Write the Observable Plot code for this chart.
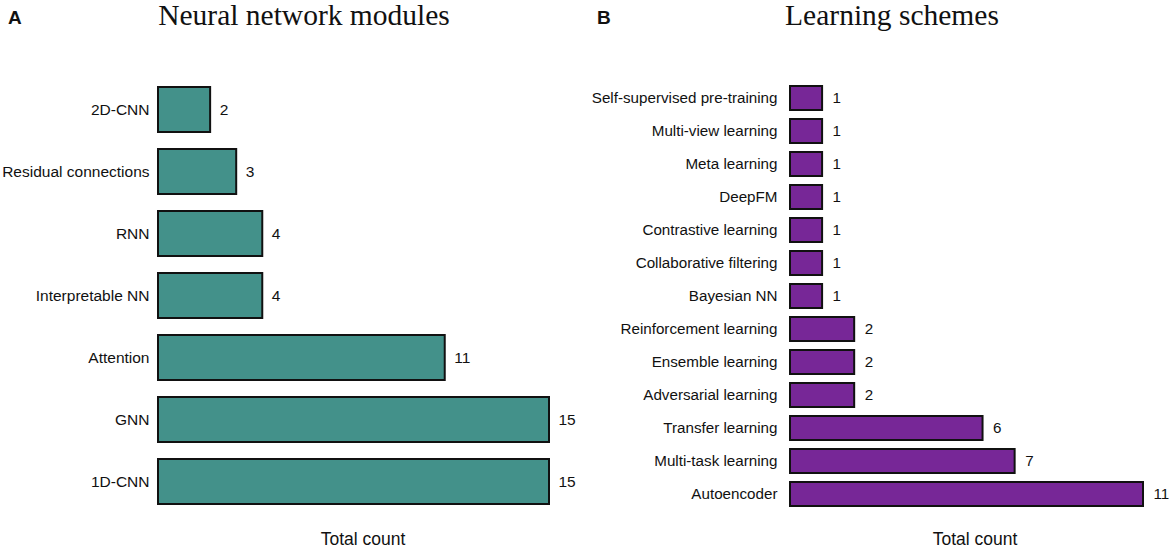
<!DOCTYPE html>
<html>
<head>
<meta charset="utf-8">
<script src="https://cdn.jsdelivr.net/npm/d3@7"></script>
<script src="https://cdn.jsdelivr.net/npm/@observablehq/plot@0.6"></script>
<style>
  html, body { margin: 0; padding: 0; background: #fff; }
  #root { position: relative; width: 1170px; height: 548px; overflow: hidden; font-family: "Liberation Sans", Arial, sans-serif; }
  .panel { position: absolute; top: 0; }
  .letter { position: absolute; font: bold 19px/1 "Liberation Sans", Arial, sans-serif; color: #111; }
  .title { position: absolute; font-family: "Liberation Serif", "Times New Roman", serif; font-size: 29.5px; line-height: 1; color: #111; transform: translateX(-50%); white-space: nowrap; }
  .xlab { position: absolute; font-size: 17.5px; line-height: 1; color: #111; transform: translateX(-50%); white-space: nowrap; }
</style>
</head>
<body>
<div id="root"></div>
<script>
const modules = ["2D-CNN", "Residual connections", "RNN", "Interpretable NN", "Attention", "GNN", "1D-CNN"];
const moduleCounts = [2, 3, 4, 4, 11, 15, 15];

const schemes = ["Self-supervised pre-training", "Multi-view learning", "Meta learning", "DeepFM",
  "Contrastive learning", "Collaborative filtering", "Bayesian NN", "Reinforcement learning",
  "Ensemble learning", "Adversarial learning", "Transfer learning", "Multi-task learning", "Autoencoder"];
const schemeCounts = [1, 1, 1, 1, 1, 1, 1, 2, 2, 2, 6, 7, 11];

const root = document.getElementById("root");

function panel(names, counts, fill, opts) {
  const data = names.map((n, i) => ({name: n, count: counts[i]}));
  return Plot.plot({
    width: 585,
    height: 548,
    marginLeft: opts.marginLeft,
    marginRight: opts.marginRight,
    marginTop: opts.marginTop,
    marginBottom: opts.marginBottom,
    style: {fontFamily: "'Liberation Sans', Arial, sans-serif", fontSize: opts.fontSize + "px", color: "#111", background: "transparent"},
    x: {domain: [0, opts.xmax], axis: null},
    y: {domain: names, padding: opts.padding, label: null, tickSize: 0, tickPadding: opts.tickPadding},
    marks: [
      Plot.barX(data, {x: "count", y: "name", fill: fill, stroke: "#111", strokeWidth: 2}),
      Plot.text(data, {x: "count", y: "name", text: d => String(d.count), dx: opts.dx, textAnchor: "start", fontSize: opts.fontSize, fill: "#111"})
    ]
  });
}

const a = panel(modules, moduleCounts, "#43918a", {marginLeft: 158, marginRight: 36, marginTop: 67, marginBottom: 23, xmax: 15, padding: 0.27, fontSize: 15.5, tickPadding: 9, dx: 9});
a.classList.add("panel"); a.style.left = "0px";
root.appendChild(a);

const b = panel(schemes, schemeCounts, "#772797", {marginLeft: 205, marginRight: 27, marginTop: 76, marginBottom: 32, xmax: 11, padding: 0.28, fontSize: 15.2, tickPadding: 13, dx: 10});
b.classList.add("panel"); b.style.left = "585px";
root.appendChild(b);

function addDiv(cls, text, left, top) {
  const d = document.createElement("div");
  d.className = cls; d.textContent = text;
  d.style.left = left + "px"; d.style.top = top + "px";
  root.appendChild(d);
}
addDiv("letter", "A", 8, 7.5);
addDiv("letter", "B", 597, 7.5);
addDiv("title", "Neural network modules", 304, 1);
addDiv("title", "Learning schemes", 892, 1);
addDiv("xlab", "Total count", 363, 531);
addDiv("xlab", "Total count", 975, 531);
</script>
</body>
</html>
